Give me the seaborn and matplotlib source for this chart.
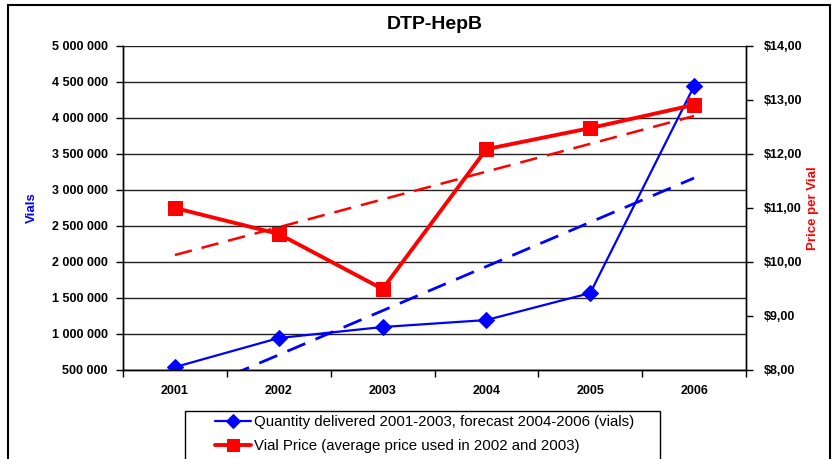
import matplotlib
matplotlib.use("Agg")
import matplotlib.pyplot as plt
import matplotlib.ticker as mticker
from matplotlib.patches import Rectangle
import numpy as np
import pandas as pd
import seaborn as sns

# Data
years = ["2001", "2002", "2003", "2004", "2005", "2006"]
vials = [540000, 944000, 1097000, 1194000, 1569000, 4444000]
price = [11.00, 10.52, 9.50, 12.09, 12.48, 12.91]

vial_label = "Quantity delivered 2001-2003, forecast 2004-2006 (vials)"
price_label = "Vial Price (average price used in 2002 and 2003)"

df = pd.DataFrame({"year": years, "vials": vials, "price": price})

sns.set_style("white")
plt.rcParams["font.family"] = ["Liberation Sans", "DejaVu Sans"]
plt.rcParams["text.color"] = "black"
plt.rcParams["xtick.color"] = "black"
plt.rcParams["ytick.color"] = "black"

blue = "#0000FF"
red = "#FF0000"

fig = plt.figure(figsize=(8.35, 4.59), dpi=100)
ax = fig.add_axes([123 / 835, 1 - 370 / 459, 623 / 835, 324 / 459])
ax2 = ax.twinx()

# quantity series (left axis)
sns.lineplot(data=df, x="year", y="vials", ax=ax, color=blue, lw=1.6,
             marker="D", markersize=8, markeredgecolor=blue, label=vial_label,
             legend=False, zorder=3)
# linear trend line, like the Excel trendline
pos = np.arange(len(years))
k, b = np.polyfit(pos, vials, 1)
ax.plot(pos, k * pos + b, color=blue, lw=2, ls=(0, (7, 4)), zorder=2)

# price series (right axis)
sns.lineplot(data=df, x="year", y="price", ax=ax2, color=red, lw=2.8,
             marker="s", markersize=10, markeredgecolor=red, label=price_label,
             legend=False, zorder=3)
k2, b2 = np.polyfit(pos, price, 1)
ax2.plot(pos, k2 * pos + b2, color=red, lw=1.8, ls=(0, (7, 4)), zorder=2)

# left axis
ax.set_xlim(-0.5, len(years) - 0.5)
ax.set_ylim(500000, 5000000)
ax.yaxis.set_major_locator(mticker.MultipleLocator(500000))
ax.yaxis.set_major_formatter(mticker.FuncFormatter(
    lambda v, p: f"{int(v):,}".replace(",", " ")))
ax.grid(axis="y", color="#222222", lw=1)
ax.set_xlabel("")
ax.set_ylabel("Vials", color=blue, fontsize=9.5, fontweight="bold", labelpad=10)
ax.set_title("DTP-HepB", fontsize=14, fontweight="bold", pad=12, color="black")

ax.set_xticks(pos)
ax.set_xticklabels(years)
ax.xaxis.set_minor_locator(mticker.FixedLocator(np.arange(-0.5, len(years), 1)))
ax.tick_params(axis="x", which="major", length=0, pad=11, labelsize=9)
ax.tick_params(axis="x", which="minor", length=5, width=1, color="black",
               direction="out", bottom=True)
ax.tick_params(axis="y", length=5, width=1, color="black", direction="out",
               left=True, labelsize=9, pad=6)
for t in ax.get_xticklabels() + ax.get_yticklabels():
    t.set_fontweight("bold")

# right axis
ax2.set_ylim(8, 14)
ax2.yaxis.set_major_locator(mticker.MultipleLocator(1))
ax2.yaxis.set_major_formatter(mticker.FuncFormatter(
    lambda v, p: f"${v:.2f}".replace(".", ",")))
ax2.set_ylabel("Price per Vial", color=red, fontsize=9.5, fontweight="bold",
               labelpad=3)
ax2.tick_params(axis="y", length=5, width=1, color="black", direction="out",
                right=True, labelsize=9, pad=8)
for t in ax2.get_yticklabels():
    t.set_fontweight("bold")

for a in (ax, ax2):
    for side in ("left", "bottom", "right"):
        a.spines[side].set_visible(True)
        a.spines[side].set_color("black")
        a.spines[side].set_linewidth(1)
    a.spines["top"].set_visible(False)

# legend below the plot, running off the bottom edge
h1, l1 = ax.get_legend_handles_labels()
h2, l2 = ax2.get_legend_handles_labels()
leg = fig.legend(h1 + h2, l1 + l2, loc="upper left",
                 bbox_to_anchor=(212 / 835, 1 - 412 / 459),
                 bbox_transform=fig.transFigure, fontsize=10.8,
                 frameon=False, handlelength=2.4, handletextpad=0.2,
                 labelspacing=0.65, borderpad=0.2, borderaxespad=0,
                 markerscale=0.85)
fig.patches.append(Rectangle((185 / 835, -0.1), 475 / 835, 0.1 + 1 - 411 / 459,
                             transform=fig.transFigure, fill=False,
                             edgecolor="black", lw=1))

# outer chart border
fig.patches.append(Rectangle((8 / 835, -0.1), 822 / 835, 1.1 - 5 / 459,
                             transform=fig.transFigure, fill=False,
                             edgecolor="black", lw=1.5))

fig.savefig("out.png", dpi=100)
